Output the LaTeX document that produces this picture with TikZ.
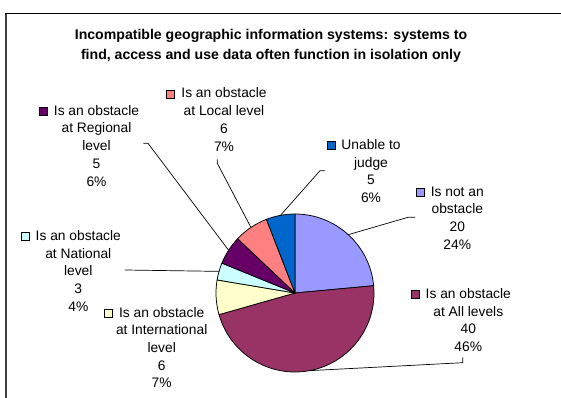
\documentclass[tikz,border=0pt]{standalone}
\usepackage{fontspec}
\setmainfont{Liberation Sans}
\usetikzlibrary{calc}

\definecolor{notobs}{HTML}{9999FF}
\definecolor{alllev}{HTML}{993366}
\definecolor{intl}{HTML}{FFFFCC}
\definecolor{natl}{HTML}{CCFFFF}
\definecolor{regl}{HTML}{660066}
\definecolor{locl}{HTML}{FF8080}
\definecolor{unable}{HTML}{0066CC}

% data label: name, centre x, first baseline y, key colour, lines
\newcommand\slicelabel[5]{%
  \foreach \txt [count=\k] in {#5}{%
    \node[lbltext, anchor=base] (#1-\k) at (#2, {#3+17.7*(\k-1)}) {\txt};
  }%
  \node[keybox, fill=#4, anchor=east] (#1-key) at ([xshift=-6pt, yshift=4pt]#1-1.base west) {};
}

\begin{document}
\begin{tikzpicture}[x=1pt, y=-1pt,
  slice/.style={draw=black, line width=0.75pt, line join=round},
  leader/.style={draw=black, line width=0.7pt},
  lbltext/.style={inner sep=0pt, font=\fontsize{13.8}{17.7}\selectfont, text=black},
  keybox/.style={draw=black, line width=0.75pt, minimum size=8pt, inner sep=0pt},
  titletext/.style={inner sep=0pt, font=\fontsize{14.1}{19.3}\selectfont\bfseries}]

\useasboundingbox (0,0) rectangle (561,398);
\fill[white] (0,0) rectangle (561,398);

% chart frame
\draw[line width=2pt, black!75] (6,398) -- (6,13.3);
\draw[line width=1.2pt] (5,13.3) -- (561,13.3);

% title
\node[titletext, anchor=base] (title1) at (271,40) {Incompatible geographic information systems: systems to};
\node[titletext, anchor=base] (title2) at (271,59.3) {find, access and use data often function in isolation only};

% pie
\coordinate (c) at (295,293);
\def\R{79}
\foreach \a/\b/\col in {-90/-5.294/notobs, -5.294/164.118/alllev, 164.118/189.529/intl,
                        189.529/202.235/natl, 202.235/223.412/regl, 223.412/248.824/locl,
                        248.824/270/unable}{
  \filldraw[slice, fill=\col] (c) -- ++(\a:\R) arc[start angle=\a, end angle=\b, radius=\R] -- cycle;
}

% leader end points on the rim
\coordinate (notobs-pt) at ($(c)+(-47.6:\R)$);
\coordinate (alllev-pt) at ($(c)+(79.4:\R)$);
\coordinate (natl-pt)   at ($(c)+(-164.1:\R)$);
\coordinate (regl-pt)   at ($(c)+(-147.2:\R)$);
\coordinate (locl-pt)   at ($(c)+(-123.9:\R)$);
\coordinate (unable-pt) at ($(c)+(-100.6:\R)$);

% leader start points beside the labels
\coordinate (regl-a) at (143.3,143.3);  \coordinate (regl-b) at (148,143.3);
\coordinate (locl-a) at (217.3,159.3);  \coordinate (locl-b) at (217.3,163.3);
\coordinate (unable-a) at (325,170.7);  \coordinate (unable-b) at (320,170.7);
\coordinate (notobs-a) at (415,217.3);  \coordinate (notobs-b) at (408,217.3);
\coordinate (alllev-a) at (462.7,357.3); \coordinate (alllev-b) at (462.7,362.7);
\coordinate (natl-a) at (125,270);

\draw[leader] (regl-a) -- (regl-b) -- (regl-pt);
\draw[leader] (locl-a) -- (locl-b) -- (locl-pt);
\draw[leader] (unable-a) -- (unable-b) -- (unable-pt);
\draw[leader] (notobs-a) -- (notobs-b) -- (notobs-pt);
\draw[leader] (alllev-a) -- (alllev-b) -- (alllev-pt);
\draw[leader] (natl-a) -- (natl-pt);

% data labels
\slicelabel{regl}{96.5}{115.3}{regl}{Is an obstacle,at Regional,level,5,6\%}
\slicelabel{locl}{224}{98}{locl}{Is an obstacle,at Local level,6,7\%}
\slicelabel{unable}{371}{149.5}{unable}{Unable to,judge,5,6\%}
\slicelabel{notobs}{457.3}{196}{notobs}{Is not an,obstacle,20,24\%}
\slicelabel{alllev}{468.3}{298.5}{alllev}{Is an obstacle,at All levels,40,46\%}
\slicelabel{natl}{78.3}{240.5}{natl}{Is an obstacle,at National,level,3,4\%}
\slicelabel{intl}{161.7}{317}{intl}{Is an obstacle,at International,level,6,7\%}

\end{tikzpicture}
\end{document}
